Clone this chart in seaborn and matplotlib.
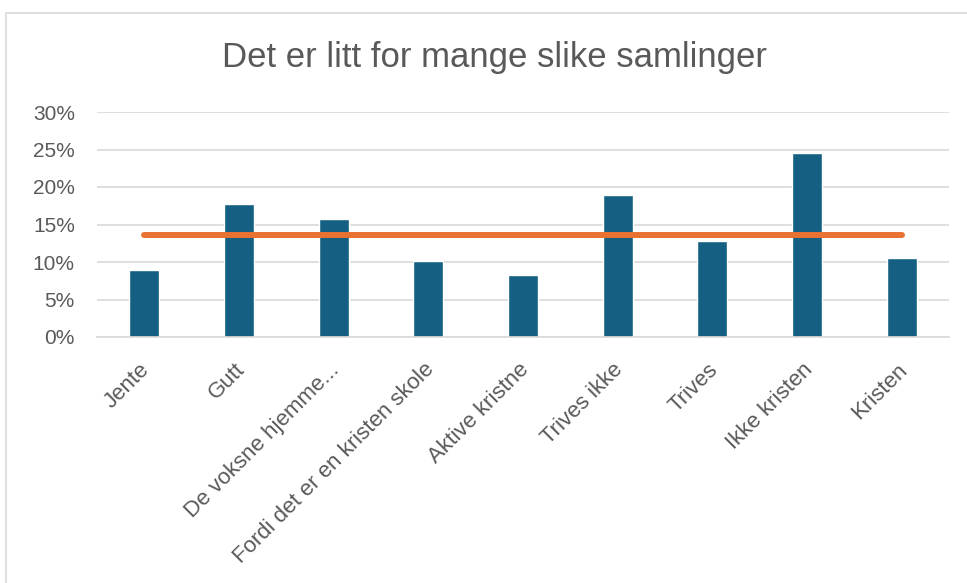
"""Excel-style bar chart: Det er litt for mange slike samlinger."""

import pandas as pd
import matplotlib.pyplot as plt
import matplotlib.transforms as mtransforms
import seaborn as sns
from matplotlib.patches import Rectangle
from matplotlib.ticker import PercentFormatter

categories = [
	'Jente',
	'Gutt',
	'De voksne hjemme...',
	'Fordi det er en kristen skole',
	'Aktive kristne',
	'Trives ikke',
	'Trives',
	'Ikke kristen',
	'Kristen',
]
shares = [0.089, 0.177, 0.157, 0.101, 0.083, 0.189, 0.128, 0.246, 0.106]
average = [0.136] * len(categories)

df = pd.DataFrame({'group': categories, 'share': shares, 'average': average})

sns.set_style('white')
plt.rcParams['font.family'] = ['Liberation Sans', 'DejaVu Sans']
text_color = '#595959'

fig = plt.figure(figsize=(9.67, 5.83), dpi=100)
ax = fig.add_axes([97 / 967, 1 - 337 / 583, (949 - 97) / 967, (337 - 112) / 583])

# Chart frame (light gray border as in Excel)
fig.patches.append(Rectangle((6 / 967, -0.05), 1.2, 1 - 13 / 583 + 0.05,
	transform=fig.transFigure, fill=False, edgecolor='#d9d9d9', linewidth=1.2))

sns.barplot(data=df, x='group', y='share', color='#156082', width=0.32,
	saturation=1, ax=ax, zorder=2)
sns.lineplot(data=df, x='group', y='average', color='#E97132', linewidth=4.3,
	solid_capstyle='round', ax=ax, zorder=3)

ax.set_xlim(-0.5, len(categories) - 0.5)
ax.set_ylim(0, 0.30)
ax.set_yticks([0, 0.05, 0.10, 0.15, 0.20, 0.25, 0.30])
ax.yaxis.set_major_formatter(PercentFormatter(1.0, decimals=0))
ax.grid(axis='y', color='#d9d9d9', linewidth=1.2, zorder=0)
ax.set_axisbelow(True)
for side in ['top', 'right', 'left']:
	ax.spines[side].set_visible(False)
ax.spines['bottom'].set_color('#d9d9d9')
ax.spines['bottom'].set_linewidth(1.2)

ax.set_xlabel('')
ax.set_ylabel('')
ax.tick_params(axis='y', length=0, labelsize=15, colors=text_color, pad=16)
ax.tick_params(axis='x', length=0, labelsize=16, colors=text_color, pad=16)
# nudge rotated labels slightly left so they end at the bar centre
offset = mtransforms.ScaledTranslation(-5 / 100, 0, fig.dpi_scale_trans)
for lbl in ax.get_xticklabels():
	lbl.set_rotation(45)
	lbl.set_ha('right')
	lbl.set_rotation_mode('anchor')
	lbl.set_transform(lbl.get_transform() + offset)

fig.text(495 / 967, 1 - 57 / 583, 'Det er litt for mange slike samlinger',
	ha='center', va='center', fontsize=25, color=text_color)

plt.savefig('out.png', dpi=100)
plt.close()
